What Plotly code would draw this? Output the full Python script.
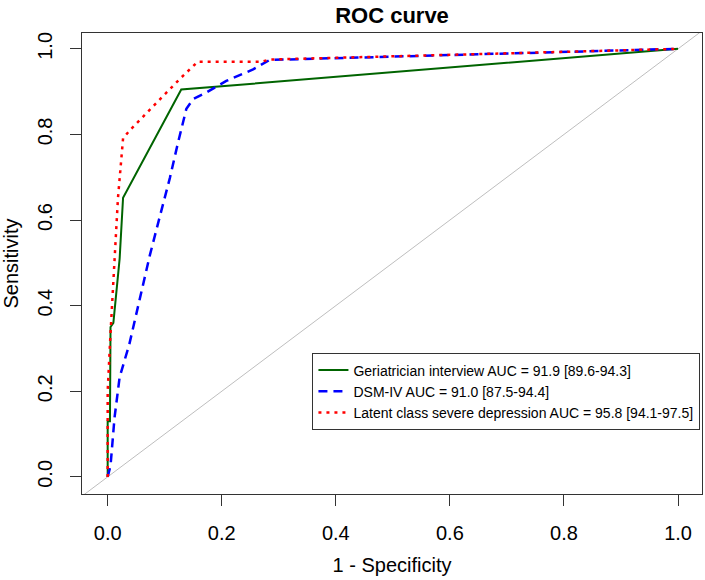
import plotly.graph_objects as go

# ---- data ----
green_x = [0, 0, 0.004, 0.005, 0.010, 0.021, 0.027, 0.129, 1.0]
green_y = [0, 0.13, 0.13, 0.35, 0.36, 0.51, 0.652, 0.905, 1.0]

blue_x = [0, 0.005, 0.012, 0.021, 0.038, 0.057, 0.074, 0.091, 0.109, 0.123,
          0.138, 0.150, 0.173, 0.208, 0.255, 0.284, 1.0]
blue_y = [0, 0.026, 0.138, 0.233, 0.31, 0.42, 0.518, 0.606, 0.698, 0.779,
          0.86, 0.883, 0.898, 0.925, 0.952, 0.974, 1.0]

red_x = [0, 0.0, 0.005, 0.012, 0.018, 0.027, 0.039, 0.126, 0.158, 0.27, 0.284, 1.0]
red_y = [0, 0.2, 0.336, 0.518, 0.65, 0.791, 0.81, 0.929, 0.97, 0.97, 0.975, 1.0]

diag_line = [-0.1, 1.1]

series_names = [
    "Geriatrician interview AUC = 91.9 [89.6-94.3]",
    "DSM-IV AUC = 91.0 [87.5-94.4]",
    "Latent class severe depression AUC = 95.8 [94.1-97.5]",
]
tick_vals = [0.0, 0.2, 0.4, 0.6, 0.8, 1.0]
tick_text = ["0.0", "0.2", "0.4", "0.6", "0.8", "1.0"]

FONT = "Liberation Sans, Arial, sans-serif"

fig = go.Figure()
fig.add_trace(go.Scatter(x=diag_line, y=diag_line, mode="lines",
                         line=dict(color="#bebebe", width=1), showlegend=False,
                         hoverinfo="skip"))
fig.add_trace(go.Scatter(x=green_x, y=green_y, mode="lines", name=series_names[0],
                         line=dict(color="#006400", width=2)))
fig.add_trace(go.Scatter(x=blue_x, y=blue_y, mode="lines", name=series_names[1],
                         line=dict(color="#0000ff", width=2.5, dash="9px,6px")))
fig.add_trace(go.Scatter(x=red_x, y=red_y, mode="lines", name=series_names[2],
                         line=dict(color="#ff0000", width=2.5, dash="3px,5px")))

axis_common = dict(
    showgrid=False, zeroline=False,
    showline=True, linecolor="#333333", linewidth=1.3, mirror=True,
    ticks="outside", ticklen=11, tickwidth=1.3, tickcolor="#333333",
    tickvals=tick_vals, ticktext=tick_text,
    tickfont=dict(family=FONT, size=20, color="black"),
)

fig.update_layout(
    width=705, height=580,
    margin=dict(l=82, r=3, t=33, b=86),
    paper_bgcolor="white", plot_bgcolor="white",
    font=dict(family=FONT, color="black"),
    title=dict(text="<b>ROC curve</b>", x=0.5, xref="paper", xanchor="center",
               y=1 - 15 / 580, yref="container", yanchor="middle",
               font=dict(family=FONT, size=22, color="black")),
    xaxis=dict(axis_common, range=[-0.045, 1.042],
               title=dict(text="1 - Specificity", font=dict(family=FONT, size=20),
                          standoff=14),
               ticklabelstandoff=10),
    yaxis=dict(axis_common, range=[-0.04, 1.037], tickangle=-90,
               title=dict(text="Sensitivity", font=dict(family=FONT, size=20),
                          standoff=14),
               ticklabelstandoff=10),
    legend=dict(x=0.997, xanchor="right", xref="paper",
                y=0.1385, yanchor="bottom", yref="paper",
                bgcolor="white", bordercolor="#333333", borderwidth=1.3,
                font=dict(family=FONT, size=14, color="black"),
                tracegroupgap=0, itemwidth=30),
)

fig.write_html(
    "out.html",
    config={"displayModeBar": False},
    post_script="document.body.style.margin='0';document.body.style.padding='0';"
                "document.body.style.overflow='hidden';",
)
